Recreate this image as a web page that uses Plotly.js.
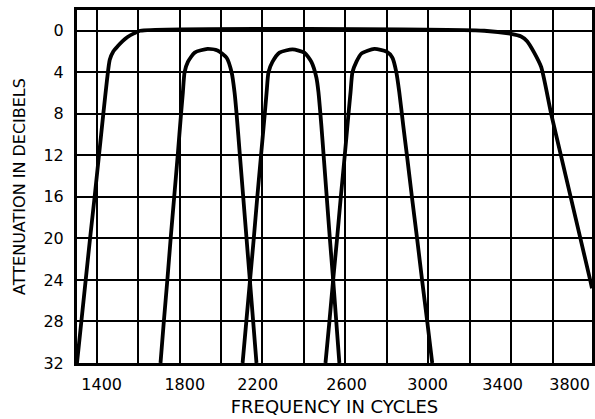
<!DOCTYPE html>
<html>
<head>
<meta charset="utf-8">
<script src="https://cdn.plot.ly/plotly-3.0.1.min.js"></script>
<style>
  html, body { margin: 0; padding: 0; background: #fff; }
  #chart { width: 595px; height: 419px; }
</style>
</head>
<body>
<div id="chart"></div>
<script>
// Wide pass band (outer filter)
const wideFreq = [1305, 1347, 1368, 1390, 1411, 1432, 1450, 1463, 1480, 1501, 1525, 1549, 1580, 1610, 3270, 3400, 3448, 3477, 3511, 3545, 3593, 3640, 3687, 3734, 3781, 3790];
const wideAtten = [32, 24, 20, 16, 12, 8, 4.7, 2.8, 2.0, 1.5, 1.0, 0.6, 0.25, 0, 0, 0.3, 0.55, 1.0, 2.1, 3.5, 8, 12, 16, 20, 24, 24.8];

// Channel band 1
const band1Freq = [1708, 1724, 1741, 1757, 1774, 1791, 1807, 1816, 1824, 1840, 1873, 1935, 1983, 2027, 2051, 2065, 2075, 2091, 2107, 2123, 2139, 2155, 2171];
const band1Atten = [32, 28, 24, 20, 16, 12, 8, 5.9, 4.0, 3.0, 2.1, 1.75, 1.9, 2.6, 4.0, 5.9, 8, 12, 16, 20, 24, 28, 32];

// Channel band 2
const band2Freq = [2104, 2122, 2140, 2158, 2175, 2193, 2211, 2220, 2229, 2248, 2282, 2345, 2402, 2436, 2460, 2470, 2484, 2495, 2510, 2525, 2541, 2556, 2571];
const band2Atten = [32, 28, 24, 20, 16, 12, 8, 5.9, 4.0, 3.0, 2.1, 1.8, 2.1, 3.0, 4.5, 5.9, 9.1, 12, 16, 20, 24, 28, 32];

// Channel band 3
const band3Freq = [2504, 2523, 2541, 2560, 2578, 2597, 2615, 2625, 2634, 2653, 2677, 2740, 2798, 2827, 2846, 2860, 2879, 2897, 2921, 2946, 2970, 2995, 3019];
const band3Atten = [32, 28, 24, 20, 16, 12, 8, 5.9, 4.0, 3.0, 2.2, 1.75, 2.0, 2.6, 4.0, 5.9, 9.1, 12, 16, 20, 24, 28, 32];

// Axis tick labels (as lettered on the original drawing)
const xTickText = ['1400', '1800', '2200', '2600', '3000', '3400', '3800'];
const xTickAt = [1424, 1825, 2177, 2606, 2997, 3359, 3682];
const yTickVals = [0, 4, 8, 12, 16, 20, 24, 28, 32];

const lineStyle = { color: '#000', width: 3.8, shape: 'spline', smoothing: 0.6 };
const mk = (x, y) => ({ x: x, y: y, type: 'scatter', mode: 'lines', line: lineStyle, hoverinfo: 'skip', showlegend: false });

const data = [
  mk(wideFreq, wideAtten),
  mk(band1Freq, band1Atten),
  mk(band2Freq, band2Atten),
  mk(band3Freq, band3Atten),
  { x: [], y: [], xaxis: 'x2', type: 'scatter', mode: 'lines', showlegend: false }
];

const FONT = 'DejaVu Sans, Arial, sans-serif';
const xr = [1305, 3790];

const layout = {
  width: 595,
  height: 419,
  margin: { l: 77, r: 3, t: 10, b: 56 },
  paper_bgcolor: '#fff',
  plot_bgcolor: '#fff',
  showlegend: false,
  font: { family: FONT, color: '#000' },
  xaxis: {
    range: xr,
    tickmode: 'array',
    tickvals: xTickAt,
    ticktext: xTickText,
    ticks: '',
    ticklabelstandoff: 5,
    tickfont: { family: FONT, size: 16, color: '#000' },
    showgrid: false,
    zeroline: false,
    showline: true,
    mirror: true,
    linecolor: '#000',
    linewidth: 3,
    title: { text: 'FREQUENCY IN CYCLES', font: { family: FONT, size: 18, color: '#000' }, standoff: 8 },
    fixedrange: true
  },
  xaxis2: {
    overlaying: 'x',
    anchor: 'y',
    range: xr,
    tick0: 1400,
    dtick: 200,
    showticklabels: false,
    ticks: '',
    showgrid: true,
    gridcolor: '#000',
    gridwidth: 2,
    zeroline: false,
    showline: false,
    fixedrange: true
  },
  yaxis: {
    range: [32, -2],
    tickmode: 'array',
    tickvals: yTickVals,
    ticks: '',
    ticklabelstandoff: 7,
    tickfont: { family: FONT, size: 16, color: '#000' },
    showgrid: true,
    gridcolor: '#000',
    gridwidth: 2,
    zeroline: false,
    showline: true,
    mirror: true,
    linecolor: '#000',
    linewidth: 3,
    title: { text: 'ATTENUATION IN DECIBELS', font: { family: FONT, size: 16, color: '#000' }, standoff: 14 },
    fixedrange: true
  }
};

Plotly.newPlot('chart', data, layout, { displayModeBar: false, staticPlot: true });
</script>
</body>
</html>
